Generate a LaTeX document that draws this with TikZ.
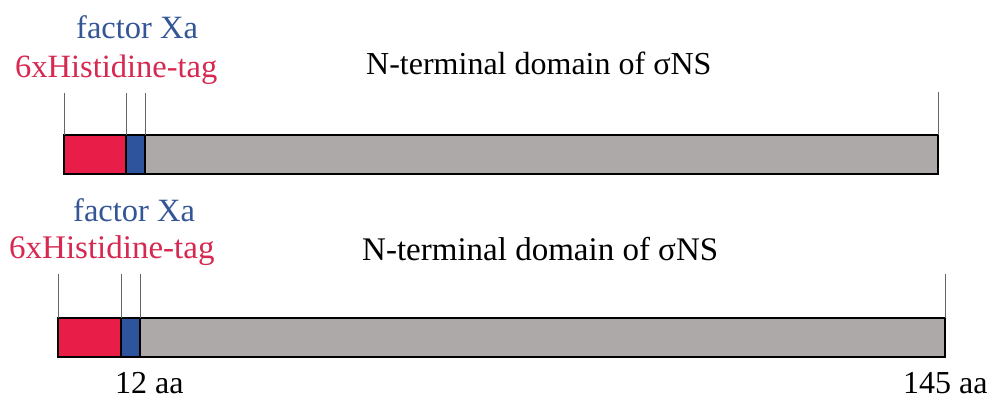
\documentclass[tikz,border=0pt]{standalone}
\usepackage{fontspec}
\setmainfont{Liberation Serif}
\usetikzlibrary{arrows.meta}
\definecolor{tagred}{RGB}{232,30,72}
\definecolor{tagblue}{RGB}{46,84,158}
\definecolor{ntgray}{RGB}{174,169,169}
\definecolor{labred}{RGB}{214,40,80}
\definecolor{labblue}{RGB}{52,86,150}

\begin{document}
\begin{tikzpicture}[x=1bp, y=-1bp,
  lab/.style={anchor=base west, inner sep=0pt, font=\fontsize{32.5bp}{36bp}\selectfont},
  tick/.style={black!60, line width=1pt}]
\path (0,0) rectangle (991,399);
% upper construct
\fill[tagred] (64,135) rectangle (126,174);
\fill[tagblue] (126,135) rectangle (145,174);
\fill[ntgray] (145,135) rectangle (938,174);
\draw[line width=1.3pt] (126,135) -- (126,174);
\draw[line width=1.3pt] (145,135) -- (145,174);
\draw[line width=2pt] (64,135) rectangle (938,174);
\coordinate (u1) at (64,93);
\coordinate (u2) at (126,93);
\coordinate (u3) at (145,93);
\coordinate (u4) at (938,92);
\draw[tick] (u1) -- (64,135);
\draw[tick] (u2) -- (126,135);
\draw[tick] (u3) -- (145,135);
\draw[tick] (u4) -- (938,135);
\node[lab, text=labblue] (ufxa) at (76,38) {factor Xa};
\node[lab, text=labred] (uhis) at (15,77) {6xHistidine-tag};
\node[lab, font=\fontsize{32bp}{36bp}\selectfont] (untd) at (366,74) {N-terminal domain of σNS};
% lower construct
\fill[tagred] (58,318) rectangle (121,357);
\fill[tagblue] (121,318) rectangle (140,357);
\fill[ntgray] (140,318) rectangle (945,357);
\draw[line width=1.3pt] (121,318) -- (121,357);
\draw[line width=1.3pt] (140,318) -- (140,357);
\draw[line width=2pt] (58,318) rectangle (945,357);
\coordinate (l1) at (58,274);
\coordinate (l2) at (121,274);
\coordinate (l3) at (140,274);
\coordinate (l4) at (945,274);
\draw[tick] (l1) -- (58,318);
\draw[tick] (l2) -- (121,318);
\draw[tick] (l3) -- (140,318);
\draw[tick] (l4) -- (945,318);
\node[lab, text=labblue] (lfxa) at (73,221) {factor Xa};
\node[lab, text=labred, font=\fontsize{33bp}{36bp}\selectfont] (lhis) at (9,258) {6xHistidine-tag};
\node[lab, font=\fontsize{33bp}{36bp}\selectfont] (lntd) at (362,260) {N-terminal domain of σNS};
\node[lab, font=\fontsize{32bp}{36bp}\selectfont] (aa12) at (115,393) {12 aa};
\node[lab, font=\fontsize{32bp}{36bp}\selectfont] (aa145) at (903,393) {145 aa};
\end{tikzpicture}
\end{document}
